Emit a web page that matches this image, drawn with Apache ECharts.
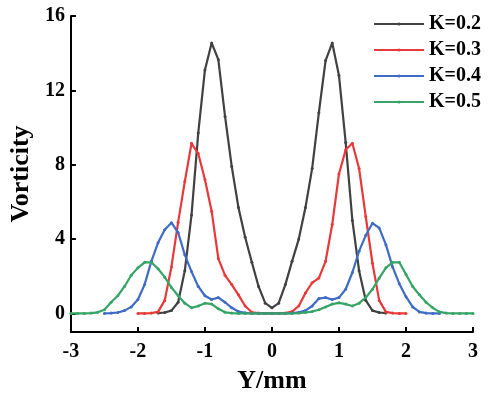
<!DOCTYPE html>
<html>
<head>
<meta charset="utf-8">
<script src="https://cdn.jsdelivr.net/npm/echarts@6/dist/echarts.min.js"></script>
<style>
html,body{margin:0;padding:0;background:#fff;}
#chart{width:500px;height:399px;}
</style>
</head>
<body>
<div id="chart"></div>
<script>
// Y positions (mm)
var xs = [-3.0,-2.9,-2.8,-2.7,-2.6,-2.5,-2.4,-2.3,-2.2,-2.1,-2.0,-1.9,-1.8,-1.7,-1.6,-1.5,-1.4,-1.3,-1.2,-1.1,-1.0,-0.9,-0.8,-0.7,-0.6,-0.5,-0.4,-0.3,-0.2,-0.1,0.0,0.1,0.2,0.3,0.4,0.5,0.6,0.7,0.8,0.9,1.0,1.1,1.2,1.3,1.4,1.5,1.6,1.7,1.8,1.9,2.0,2.1,2.2,2.3,2.4,2.5,2.6,2.7,2.8,2.9,3.0];
var seriesNames = ['K=0.2','K=0.3','K=0.4','K=0.5'];
var k02 = [null,null,null,null,null,null,null,null,null,null,null,null,null,
  0.02,0.05,0.15,0.6,2.3,5.3,9.7,13.1,14.55,13.65,10.6,7.9,5.7,4.1,2.75,1.45,0.55,
  0.3,
  0.55,1.55,2.8,4.0,5.7,7.8,10.8,13.6,14.55,12.8,9.2,5.0,2.3,0.7,0.15,0.05,0.02,
  null,null,null,null,null,null,null,null,null,null,null,null,null];
var k03 = [null,null,null,null,null,null,null,null,null,null,
  0,0,0.02,0.08,0.7,2.5,4.9,7.1,9.15,8.6,7.2,5.5,2.95,2.05,1.55,1.0,0.4,0.06,0.02,0,
  0,
  0,0.02,0.1,0.4,1.1,1.65,1.9,2.8,4.8,7.5,8.8,9.15,7.8,5.2,2.7,0.7,0.08,0.02,0,0,
  null,null,null,null,null,null,null,null,null,null];
var k04 = [null,null,null,null,null,
  0,0.02,0.05,0.15,0.35,0.75,1.55,2.8,3.8,4.5,4.88,4.35,3.15,2.25,1.45,0.95,0.75,0.85,0.6,0.3,0.1,0.03,0,0,0,
  0,
  0,0,0.02,0.06,0.15,0.4,0.8,0.85,0.75,0.85,1.3,2.2,3.35,4.2,4.85,4.6,3.7,2.5,1.6,0.9,0.35,0.08,0.02,0,0,
  null,null,null,null,null];
var k05 = [0,0,0,0.02,0.06,0.2,0.6,0.95,1.45,2.05,2.45,2.75,2.75,2.4,1.95,1.4,0.95,0.55,0.3,0.4,0.55,0.5,0.25,0.06,0.02,0,0,0,0,0,
  0,
  0,0,0,0.02,0.05,0.1,0.2,0.35,0.5,0.57,0.5,0.4,0.55,0.85,1.3,1.9,2.45,2.75,2.75,2.1,1.45,1.0,0.6,0.3,0.08,0.02,0,0,0,0];
var yTicks = [0,4,8,12,16];
var xTicks = [-3,-2,-1,0,1,2,3];

var colors = ['#414141','#e8393a','#3e6cc4','#36a466'];
var serif = 'Liberation Serif';

function pairs(vals){
  var out = [];
  for (var i = 0; i < xs.length; i++) out.push([xs[i], vals[i]]);
  return out;
}
var allVals = [k02,k03,k04,k05];

var chart = echarts.init(document.getElementById('chart'), null, {renderer:'canvas'});
chart.setOption({
  animation:false,
  backgroundColor:'#fff',
  color: colors,
  grid:{left:69, right:27, top:16, bottom:66, containLabel:false},
  legend:{
    orient:'vertical', right:14, top:9,
    itemWidth:50, itemHeight:4, itemGap:6,
    textStyle:{fontFamily:serif, fontWeight:'bold', fontSize:20, color:'#000', lineHeight:20},
    data: seriesNames
  },
  xAxis:{
    type:'value', min:-3, max:3, interval:1,
    name:'Y/mm', nameLocation:'middle', nameGap:36,
    nameTextStyle:{fontFamily:serif, fontWeight:'bold', fontSize:26, color:'#000'},
    axisLine:{show:true, onZero:false, lineStyle:{color:'#000', width:2}},
    axisTick:{show:true, inside:true, length:5, lineStyle:{color:'#000', width:2}},
    axisLabel:{fontFamily:serif, fontWeight:'bold', fontSize:20, color:'#000', margin:10,
      customValues: xTicks},
    splitLine:{show:false}
  },
  yAxis:{
    type:'value', min:-1, max:16,
    name:'Vorticity', nameLocation:'middle', nameGap:36,
    nameTextStyle:{fontFamily:serif, fontWeight:'bold', fontSize:26, color:'#000'},
    axisLine:{show:true, onZero:false, lineStyle:{color:'#000', width:2}},
    axisTick:{show:true, inside:true, length:5, lineStyle:{color:'#000', width:2}, customValues: yTicks},
    axisLabel:{fontFamily:serif, fontWeight:'bold', fontSize:20, color:'#000', margin:6, customValues: yTicks},
    splitLine:{show:false}
  },
  series: seriesNames.map(function(n, i){
    return {
      name:n, type:'line', data: pairs(allVals[i]),
      symbol:'circle', symbolSize:3, showSymbol:true, showAllSymbol:true,
      lineStyle:{width:2.2, color:colors[i]},
      itemStyle:{color:colors[i]},
      connectNulls:false
    };
  })
});
</script>
</body>
</html>
